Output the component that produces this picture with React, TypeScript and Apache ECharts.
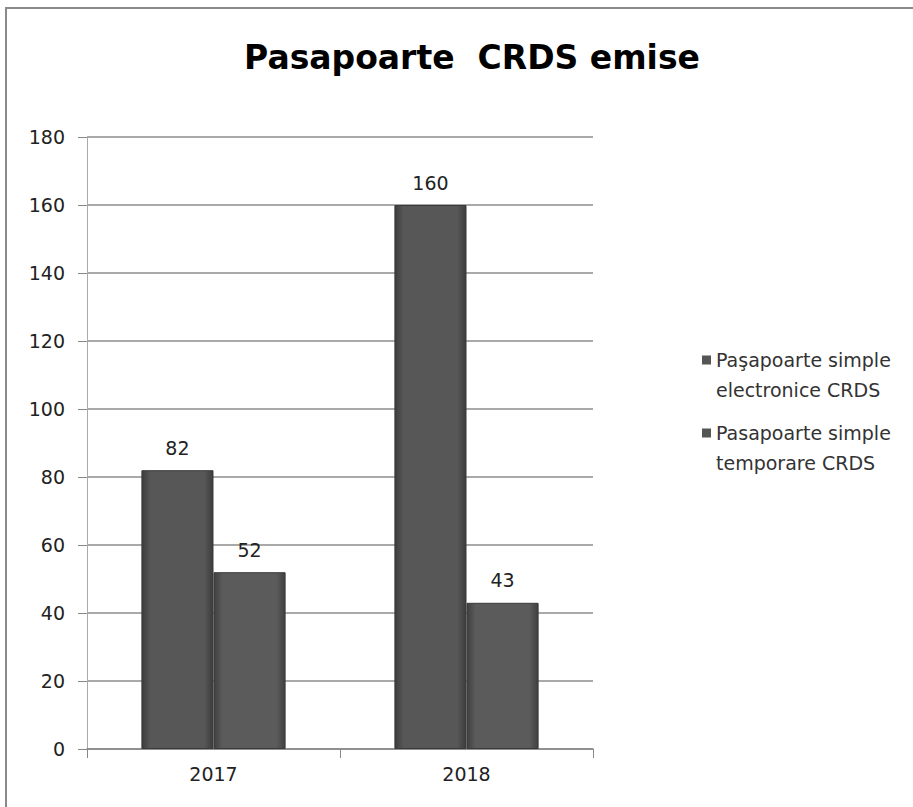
import React, { useEffect, useRef } from "react";
import * as echarts from "echarts";

const categories = ["2017", "2018"];
const seriesNames = ["Paşapoarte simple\nelectronice CRDS", "Pasapoarte simple\ntemporare CRDS"];
const electronice = [82, 160];
const temporare = [52, 43];

const barGradient = (a: string, b: string) =>
  new echarts.graphic.LinearGradient(0, 0, 1, 0, [
    { offset: 0, color: a },
    { offset: 0.12, color: b },
    { offset: 0.88, color: b },
    { offset: 1, color: a },
  ]);

export default function App() {
  const ref = useRef<HTMLDivElement>(null);
  useEffect(() => {
    if (!ref.current) return;
    const chart = echarts.init(ref.current, null, { renderer: "svg" });
    const font = "'DejaVu Sans', sans-serif";
    chart.setOption({
      animation: false,
      backgroundColor: "#fff",
      textStyle: { fontFamily: font },
      title: {
        text: "Pasapoarte  CRDS emise",
        left: 467,
        top: 36,
        textAlign: "center",
        textStyle: { fontSize: 33, fontWeight: "bold", color: "#000", fontFamily: font },
      },
      graphic: [
        {
          type: "rect",
          shape: { x: 6, y: 8, width: 920, height: 820 },
          style: { fill: "none", stroke: "#8a8a8a", lineWidth: 2 },
          silent: true,
          z: -1,
        },
      ],
      legend: {
        orient: "vertical",
        left: 697,
        top: 340,
        itemWidth: 9,
        itemHeight: 39,
        itemGap: 13,
        icon: "path://M0,0L9,0L9,9L0,9Z M0,38.99L9,38.99L9,39L0,39Z",
        itemStyle: { color: "#555", borderWidth: 0, opacity: 1 },
        textStyle: { fontSize: 19, color: "#333", lineHeight: 30, fontFamily: font },
        data: seriesNames,
      },
      grid: { left: 87, right: 320, top: 137, bottom: 58 },
      xAxis: {
        type: "category",
        data: categories,
        axisLine: { lineStyle: { color: "#888", width: 1.5 } },
        axisTick: { show: true, length: 9, lineStyle: { color: "#888" } },
        axisLabel: { fontSize: 19, color: "#222", margin: 15 },
      },
      yAxis: {
        type: "value",
        min: 0,
        max: 180,
        interval: 20,
        axisLine: { show: true, lineStyle: { color: "#aaa" } },
        axisTick: { show: true, length: 9, lineStyle: { color: "#888" } },
        axisLabel: { fontSize: 19, color: "#222", margin: 22 },
        splitLine: { lineStyle: { color: "#8c8c8c", width: 1.5 } },
      },
      series: [
        {
          name: seriesNames[0],
          type: "bar",
          data: electronice,
          barGap: "0%",
          barCategoryGap: "43%",
          itemStyle: { color: barGradient("#3c3c3c", "#575757"), borderColor: "#3a3a3a", borderWidth: 1 },
          label: { show: true, position: "top", distance: 13, fontSize: 19, color: "#222" },
        },
        {
          name: seriesNames[1],
          type: "bar",
          data: temporare,
          itemStyle: { color: barGradient("#404040", "#5b5b5b"), borderColor: "#3a3a3a", borderWidth: 1 },
          label: { show: true, position: "top", distance: 13, fontSize: 19, color: "#222" },
        },
      ],
    });
    return () => chart.dispose();
  }, []);
  return (
    <div
      ref={ref}
      style={{ position: "fixed", left: 0, top: 0, width: 913, height: 807 }}
    />
  );
}
